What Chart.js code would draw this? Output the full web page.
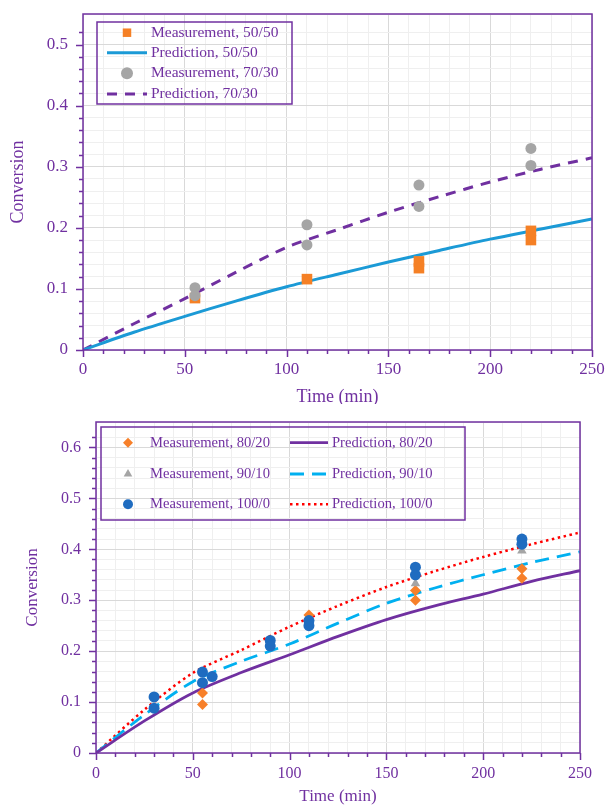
<!DOCTYPE html>
<html>
<head>
<meta charset="utf-8">
<script src="https://cdn.jsdelivr.net/npm/chart.js@4.4.1/dist/chart.umd.min.js"></script>
<style>
  html, body { margin: 0; padding: 0; background: #fff; }
  canvas { display: block; }
</style>
</head>
<body>
<canvas id="topChart" width="608" height="404"></canvas>
<canvas id="bottomChart" width="608" height="403"></canvas>
<script>
// ---- data: prediction curves share one time grid ----
const predTime = [0, 25, 50, 75, 100, 125, 150, 175, 200, 225, 250];

// top chart: 50/50 and 70/30
const pred5050 = [0, 0.029, 0.055, 0.080, 0.1035, 0.124, 0.144, 0.163, 0.1815, 0.198, 0.2145];
const pred7030 = [0, 0.043, 0.084, 0.127, 0.168, 0.197, 0.2255, 0.251, 0.275, 0.296, 0.3146];
const measTime5050 = [55, 110, 165, 165, 220, 220];
const meas5050 = [0.085, 0.116, 0.134, 0.145, 0.180, 0.195];
const measTime7030 = [55, 55, 110, 110, 165, 165, 220, 220];
const meas7030 = [0.102, 0.089, 0.205, 0.172, 0.270, 0.235, 0.330, 0.302];

// bottom chart: 80/20, 90/10, 100/0
const pred8020 = [0, 0.063, 0.118, 0.158, 0.193, 0.229, 0.262, 0.289, 0.312, 0.337, 0.358];
const pred9010 = [0, 0.075, 0.140, 0.180, 0.214, 0.255, 0.294, 0.324, 0.350, 0.374, 0.395];
const pred1000 = [0, 0.085, 0.157, 0.202, 0.248, 0.289, 0.326, 0.357, 0.385, 0.410, 0.433];
const measTime8020 = [55, 55, 110, 165, 165, 220, 220];
const meas8020 = [0.118, 0.095, 0.271, 0.319, 0.300, 0.362, 0.343];
const measTime9010 = [165, 220];
const meas9010 = [0.333, 0.397];
const measTime1000 = [30, 30, 55, 55, 60, 90, 90, 110, 110, 165, 165, 220, 220];
const meas1000 = [0.110, 0.088, 0.159, 0.138, 0.150, 0.221, 0.210, 0.260, 0.250, 0.365, 0.350, 0.420, 0.410];

const xTicks = [0, 50, 100, 150, 200, 250];

// ---- styles ----
const PURPLE = "#7030a0";
const SERIF = "'Liberation Serif', 'DejaVu Serif', serif";
const MAJOR = "#d9d9d9";
const MINOR = "#efefef";

const pts = (xs, ys) => xs.map((x, i) => ({ x: x, y: ys[i] }));
const isStep = (v, step) => Math.abs(v / step - Math.round(v / step)) < 1e-6;


// ============================================================
// PLUGINS: frame + tick marks, boxed legend
// ============================================================

const framePlugin = {
  id: "frame",
  afterDraw(chart) {
    const { ctx, chartArea: a, scales } = chart;
    ctx.save();
    ctx.strokeStyle = PURPLE;
    ctx.lineWidth = 1.5;
    ctx.strokeRect(a.left, a.top, a.right - a.left, a.bottom - a.top);

    ctx.beginPath();
    scales.y.ticks.forEach((t, i) => {
      if (!isStep(t.value, 0.02)) return;
      const py = Math.round(scales.y.getPixelForTick(i)) + 0.5;
      const len = isStep(t.value, 0.1) ? 7 : 4;
      ctx.moveTo(a.left - len, py);
      ctx.lineTo(a.left, py);
    });
    scales.x.ticks.forEach((t, i) => {
      const px = Math.round(scales.x.getPixelForTick(i)) + 0.5;
      const len = xTicks.includes(t.value) ? 7 : 4;
      ctx.moveTo(px, a.bottom);
      ctx.lineTo(px, a.bottom + len);
    });
    ctx.stroke();
    ctx.restore();
  }
};

const legendPlugin = {
  id: "boxLegend",
  afterDraw(chart, args, o) {
    const { ctx, chartArea: a } = chart;
    const x0 = a.left + o.left;
    const y0 = a.top + o.top;
    ctx.save();
    ctx.strokeStyle = PURPLE;
    ctx.lineWidth = 1.5;
    ctx.strokeRect(x0, y0, o.width, o.height);
    ctx.font = o.fontSize + "px " + SERIF;
    ctx.textBaseline = "middle";

    o.items.forEach((it) => {
      const ds = chart.data.datasets[it.index];
      const col = o.cols[it.col];
      const cy = y0 + o.rows[it.row];
      if (ds.showLine) {
        ctx.strokeStyle = ds.borderColor;
        ctx.lineWidth = ds.borderWidth;
        ctx.setLineDash(ds.borderDash || []);
        ctx.beginPath();
        ctx.moveTo(x0 + col.line[0], cy);
        ctx.lineTo(x0 + col.line[1], cy);
        ctx.stroke();
        ctx.setLineDash([]);
      } else {
        ctx.fillStyle = ds.backgroundColor;
        ctx.strokeStyle = ds.borderColor;
        Chart.helpers.drawPoint(ctx, {
          pointStyle: ds.pointStyle, radius: o.pointRadius, rotation: 0, borderWidth: 0
        }, x0 + col.mark, cy);
      }
      ctx.fillStyle = PURPLE;
      ctx.fillText(ds.label, x0 + col.text, cy);
    });
    ctx.restore();
  }
};


// ============================================================
// SHARED SCALES
// ============================================================

function makeScales(o) {
  return {
    x: {
      type: "linear", min: 0, max: 250,
      ticks: {
        stepSize: 10, autoSkip: false, maxRotation: 0,
        padding: o.xPad, color: PURPLE,
        font: { family: SERIF, size: o.tickSize },
        callback: (v) => xTicks.includes(v) ? String(v) : ""
      },
      grid: {
        drawTicks: false,
        color: (c) => (c.tick && xTicks.includes(c.tick.value)) ? MAJOR : MINOR
      },
      border: { display: false },
      title: {
        display: true, text: "Time (min)", color: PURPLE,
        font: { family: SERIF, size: o.titleSize, lineHeight: o.xTitleLH },
        padding: { top: 0, bottom: o.xTitlePad }
      },
      afterFit: (s) => {
        s.height = o.xHeight;
        s.paddingLeft = 0;
        s.paddingRight = 0;
      }
    },
    y: {
      type: "linear", min: 0, max: o.yMax,
      ticks: {
        stepSize: 0.02, autoSkip: false,
        padding: 15, color: PURPLE,
        font: { family: SERIF, size: o.tickSize },
        callback: (v) => isStep(v, 0.1) ? String(Math.round(v * 10) / 10) : ""
      },
      grid: {
        drawTicks: false,
        color: (c) => (c.tick && isStep(c.tick.value, 0.1)) ? MAJOR : MINOR
      },
      border: { display: false },
      title: {
        display: true, text: "Conversion", color: PURPLE,
        font: { family: SERIF, size: o.titleSize, lineHeight: 1 },
        padding: { top: o.yTitlePad, bottom: 0 }
      },
      afterFit: (s) => {
        s.width = o.yWidth;
        s.paddingTop = 0;
        s.paddingBottom = 0;
      }
    }
  };
}


// ============================================================
// TOP CHART
// ============================================================

new Chart(document.getElementById("topChart"), {
  type: "scatter",
  data: {
    datasets: [
      {
        label: "Measurement, 70/30", data: pts(measTime7030, meas7030),
        pointStyle: "circle", pointRadius: 5.5, borderWidth: 0,
        backgroundColor: "#a5a5a5", borderColor: "#a5a5a5"
      },
      {
        label: "Measurement, 50/50", data: pts(measTime5050, meas5050),
        pointStyle: "rect", pointRadius: 7.5, borderWidth: 0,
        backgroundColor: "#f58025", borderColor: "#f58025"
      },
      {
        label: "Prediction, 50/50", data: pts(predTime, pred5050),
        showLine: true, pointRadius: 0, borderWidth: 3, tension: 0.3,
        borderColor: "#1b9ad6", backgroundColor: "#1b9ad6"
      },
      {
        label: "Prediction, 70/30", data: pts(predTime, pred7030),
        showLine: true, pointRadius: 0, borderWidth: 3, tension: 0.3,
        borderDash: [10, 8],
        borderColor: PURPLE, backgroundColor: PURPLE
      }
    ]
  },
  options: {
    responsive: false,
    animation: false,
    layout: { padding: { top: 14, right: 16, left: 0, bottom: 0 } },
    scales: makeScales({
      yMax: 0.55, tickSize: 17, titleSize: 18,
      xPad: 9, xHeight: 54, xTitleLH: 0.8, xTitlePad: 0,
      yWidth: 83, yTitlePad: 9
    }),
    plugins: {
      legend: { display: false },
      tooltip: { enabled: false },
      boxLegend: {
        left: 14, top: 8, width: 195, height: 82, fontSize: 15.5, pointRadius: 6,
        rows: [10.7, 30.7, 51.3, 72],
        cols: [{ mark: 30, line: [10, 50], text: 54 }],
        items: [
          { index: 1, col: 0, row: 0 },
          { index: 2, col: 0, row: 1 },
          { index: 0, col: 0, row: 2 },
          { index: 3, col: 0, row: 3 }
        ]
      }
    }
  },
  plugins: [framePlugin, legendPlugin]
});


// ============================================================
// BOTTOM CHART
// ============================================================

new Chart(document.getElementById("bottomChart"), {
  type: "scatter",
  data: {
    datasets: [
      {
        label: "Measurement, 100/0", data: pts(measTime1000, meas1000),
        pointStyle: "circle", pointRadius: 5.5, borderWidth: 0,
        backgroundColor: "#1f6cc0", borderColor: "#1f6cc0"
      },
      {
        label: "Measurement, 90/10", data: pts(measTime9010, meas9010),
        pointStyle: "triangle", pointRadius: 5.5, borderWidth: 0,
        backgroundColor: "#a5a5a5", borderColor: "#a5a5a5"
      },
      {
        label: "Measurement, 80/20", data: pts(measTime8020, meas8020),
        pointStyle: "rectRot", pointRadius: 5.5, borderWidth: 0,
        backgroundColor: "#f7802a", borderColor: "#f7802a"
      },
      {
        label: "Prediction, 80/20", data: pts(predTime, pred8020),
        showLine: true, pointRadius: 0, borderWidth: 2.8, tension: 0.3,
        borderColor: PURPLE, backgroundColor: PURPLE
      },
      {
        label: "Prediction, 90/10", data: pts(predTime, pred9010),
        showLine: true, pointRadius: 0, borderWidth: 2.8, tension: 0.3,
        borderDash: [14, 8],
        borderColor: "#00b0f0", backgroundColor: "#00b0f0"
      },
      {
        label: "Prediction, 100/0", data: pts(predTime, pred1000),
        showLine: true, pointRadius: 0, borderWidth: 2.5, tension: 0.3,
        borderDash: [2.5, 3.5],
        borderColor: "#ff0000", backgroundColor: "#ff0000"
      }
    ]
  },
  options: {
    responsive: false,
    animation: false,
    layout: { padding: { top: 18, right: 28, left: 0, bottom: 0 } },
    scales: makeScales({
      yMax: 0.65, tickSize: 16, titleSize: 17,
      xPad: 11, xHeight: 54, xTitleLH: 1, xTitlePad: 1.5,
      yWidth: 96, yTitlePad: 24.5
    }),
    plugins: {
      legend: { display: false },
      tooltip: { enabled: false },
      boxLegend: {
        left: 5, top: 5, width: 364, height: 93, fontSize: 14.6, pointRadius: 5,
        rows: [15.7, 47, 77.3],
        cols: [
          { mark: 27, line: [9, 47], text: 49 },
          { mark: 207, line: [189, 227], text: 231 }
        ],
        items: [
          { index: 2, col: 0, row: 0 },
          { index: 1, col: 0, row: 1 },
          { index: 0, col: 0, row: 2 },
          { index: 3, col: 1, row: 0 },
          { index: 4, col: 1, row: 1 },
          { index: 5, col: 1, row: 2 }
        ]
      }
    }
  },
  plugins: [framePlugin, legendPlugin]
});
</script>
</body>
</html>
